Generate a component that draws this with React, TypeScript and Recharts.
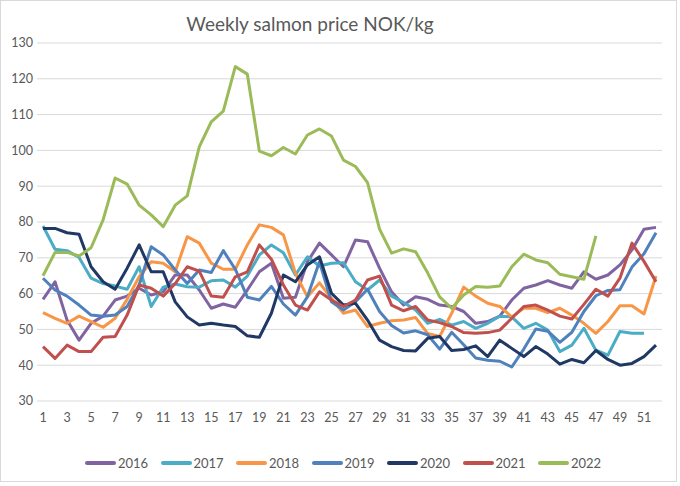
import React from "react";
import { LineChart, Line, XAxis, YAxis, CartesianGrid } from "recharts";

const weeks = [
  "1", "2", "3", "4", "5", "6", "7", "8", "9", "10", "11", "12", "13",
  "14", "15", "16", "17", "18", "19", "20", "21", "22", "23", "24", "25", "26",
  "27", "28", "29", "30", "31", "32", "33", "34", "35", "36", "37", "38", "39",
  "40", "41", "42", "43", "44", "45", "46", "47", "48", "49", "50", "51", "52",
];

const yTicks = [30, 40, 50, 60, 70, 80, 90, 100, 110, 120, 130];

const p2016 = [58.4, 63.3, 52.6, 47, 51.7, 53.7, 58.2, 59.3, 61.5, 59.6, 60.5, 65.2, 65.2, 61, 55.9, 57.1, 56.2, 61, 66.1, 68.5, 58.7, 59, 68.9, 74.1, 70.8, 67.5, 75, 74.5, 67.1, 60.5, 56.8, 59.1, 58.4, 56.8, 56.4, 55, 51.7, 52.2, 53.7, 58.2, 61.5, 62.4, 63.6, 62.4, 61.5, 66.1, 64, 65.2, 68, 72.2, 78, 78.5];
const p2017 = [78.9, 72.4, 72, 70.1, 64.3, 62.8, 62.1, 61.2, 67.5, 56.4, 61.8, 62.7, 61.9, 61.8, 63.6, 63.8, 61.8, 64.9, 70.8, 73.6, 71.4, 65.2, 70.3, 67.7, 68.5, 68.6, 63.3, 61, 63.8, 59.3, 57.5, 55.4, 51.7, 52.8, 51.2, 52.2, 50.3, 51.7, 53.7, 53.5, 50.3, 51.7, 49.8, 43.8, 45.6, 50.3, 44.2, 42.8, 49.4, 48.9, 48.9];
const p2018 = [54.7, 53.1, 51.7, 53.7, 52.2, 50.6, 53.1, 58.4, 64.7, 68.9, 68.5, 66.1, 75.9, 74.1, 68.5, 66.8, 66.8, 73.6, 79.2, 78.5, 76.4, 65.7, 59.1, 63, 58.7, 54.5, 55.4, 50.8, 51.7, 52.4, 52.6, 53.3, 48.9, 48, 54.5, 61.8, 59.3, 57.3, 56.4, 53.5, 55.9, 55.9, 54.7, 55.9, 54, 51.7, 48.9, 52.2, 56.6, 56.6, 54.3, 64.9];
const p2019 = [64.3, 61, 59.3, 56.8, 54, 53.7, 54, 56.4, 62.4, 73.1, 70.8, 66.6, 62.8, 66.6, 65.9, 72, 66.8, 59, 58.2, 62, 57.1, 54, 59.1, 68.9, 57.7, 55.4, 57.7, 61.2, 55, 51.1, 49, 49.6, 48.5, 44.5, 49.2, 45.7, 42, 41.4, 41.1, 39.5, 44.5, 50.1, 49.5, 46.4, 49.2, 55, 59.4, 60.9, 61.1, 67.4, 71.1, 77];
const p2020 = [78.2, 78.2, 77, 76.6, 67.5, 63.3, 61.2, 67.1, 73.6, 66.1, 66.1, 57.7, 53.5, 51.2, 51.7, 51.2, 50.8, 48.2, 47.8, 54.5, 65.2, 63.3, 68, 70.3, 60.1, 56.8, 57.3, 52.6, 47, 45.2, 44.1, 44, 47.5, 48, 44.1, 44.4, 45.4, 42.4, 47, 44.7, 42.4, 45.2, 43.1, 40.3, 41.6, 40.7, 44.1, 41.6, 40, 40.5, 42.4, 45.6];
const p2021 = [45.2, 41.9, 45.6, 43.8, 43.8, 47.8, 48, 54, 62.4, 61.5, 59.3, 62.8, 67.5, 66.3, 59.3, 59, 64.7, 66.1, 73.6, 69.6, 62.4, 56.8, 55.4, 60.5, 58.2, 56.4, 58.2, 63.8, 64.9, 56.8, 55.2, 56.4, 52.6, 51.9, 50.8, 49.1, 48.9, 49.1, 49.8, 53.1, 56.4, 56.8, 55.4, 53.7, 52.9, 57, 61.2, 59.3, 64.3, 74.1, 69, 63.3];
const p2022 = [65, 71.5, 71.5, 70.5, 72.8, 80.6, 92.3, 90.6, 84.7, 82, 78.7, 84.7, 87.3, 101, 108, 111, 123.4, 121.3, 99.8, 98.5, 100.8, 99, 104.3, 106, 104, 97.3, 95.5, 91, 78, 71.3, 72.5, 71.7, 65.8, 59.1, 55.9, 59.6, 62, 61.8, 62.1, 67.5, 71, 69.4, 68.6, 65.4, 64.7, 64, 76.1];

const series = [
  { key: "2016", values: p2016, color: "#8064A2" },
  { key: "2017", values: p2017, color: "#4BACC6" },
  { key: "2018", values: p2018, color: "#F79646" },
  { key: "2019", values: p2019, color: "#4F81BD" },
  { key: "2020", values: p2020, color: "#203864" },
  { key: "2021", values: p2021, color: "#C0504D" },
  { key: "2022", values: p2022, color: "#9BBB59" },
];

const data = weeks.map((w, i) => {
  const row: Record<string, string | number | undefined> = { week: w };
  for (const s of series) row[s.key] = s.values[i];
  return row;
});

const FONT = "Lato, 'Liberation Sans', sans-serif";
const TXT = "#595959";

export default function App() {
  return (
    <div style={{ position: "absolute", left: 0, top: 0, width: 680, height: 486, background: "#fff", fontFamily: FONT }}>
      <div style={{ position: "absolute", left: 0, top: 0, width: 677, height: 482, border: "1px solid #D9D9D9", boxSizing: "border-box" }} />
      <div style={{ position: "absolute", left: 0, top: 13, width: 620, textAlign: "center", fontSize: 19, color: TXT, lineHeight: "22px" }}>
        Weekly salmon price NOK/kg
      </div>
      <LineChart width={680} height={486} data={data} margin={{ top: 43, right: 18, left: 0, bottom: 55 }}>
        <CartesianGrid vertical={false} stroke="#D9D9D9" strokeWidth={1} />
        <XAxis
          dataKey="week"
          interval={1}
          axisLine={false}
          tickLine={false}
          tickSize={6}
          tickMargin={6}
          height={30}
          padding={{ left: 6, right: 6 }}
          tick={{ fill: TXT, fontSize: 12.5, fontFamily: FONT }}
        />
        <YAxis
          domain={[30, 130]}
          ticks={yTicks}
          width={37}
          axisLine={false}
          tickLine={false}
          tickSize={2}
          tickMargin={2}
          tick={{ fill: TXT, fontSize: 12.5, fontFamily: FONT }}
        />
        {series.map((s) => (
          <Line
            key={s.key}
            dataKey={s.key}
            stroke={s.color}
            strokeWidth={3}
            strokeLinejoin="round"
            dot={false}
            activeDot={false}
            type="linear"
            isAnimationActive={false}
          />
        ))}
      </LineChart>
      <div style={{ position: "absolute", left: 85, top: 453, display: "flex", alignItems: "center", fontSize: 13, color: TXT }}>
        {series.map((s) => (
          <div key={s.key} style={{ display: "flex", alignItems: "center", width: 75.5 }}>
            <div style={{ width: 31, height: 4, borderRadius: 2, background: s.color, marginRight: 2 }} />
            <span style={{ lineHeight: "20px" }}>{s.key}</span>
          </div>
        ))}
      </div>
    </div>
  );
}
